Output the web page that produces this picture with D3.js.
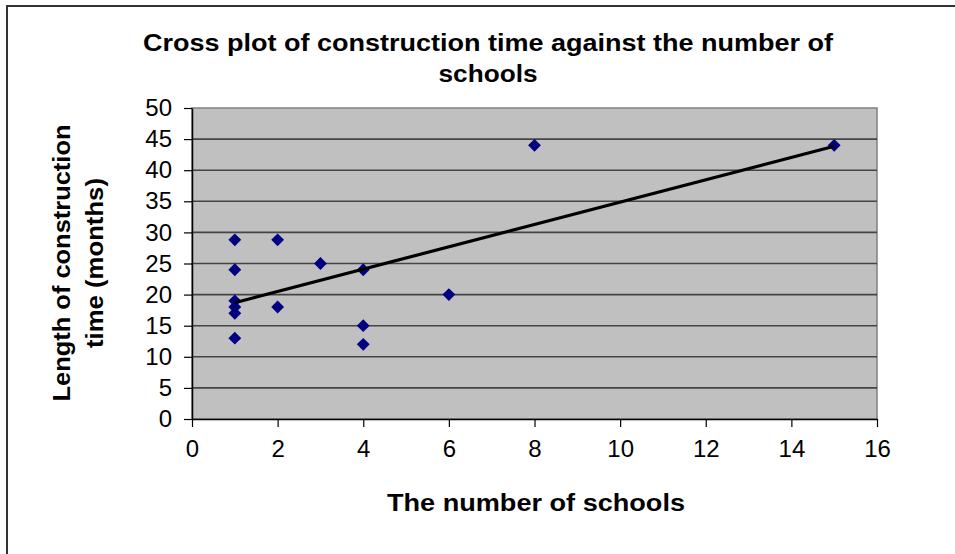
<!DOCTYPE html>
<html>
<head>
<meta charset="utf-8">
<script src="https://cdn.jsdelivr.net/npm/d3@7/dist/d3.min.js"></script>
<style>
  html, body { margin: 0; padding: 0; background: #fff; }
  svg { display: block; }
  text { font-family: "Liberation Sans", Arial, sans-serif; fill: #000; }
</style>
</head>
<body>
<svg id="chart" width="955" height="554"></svg>
<script>
// Number of schools per project and the months it took to build
const schools = [1, 1, 1, 1, 1, 1, 2, 2, 3, 4, 4, 4, 6, 8, 15];
const months  = [28.8, 24, 19, 18, 17, 13, 28.8, 18, 25, 24, 15, 12, 20, 44, 44];

const xTicks = [0, 2, 4, 6, 8, 10, 12, 14, 16];
const yTicks = [0, 5, 10, 15, 20, 25, 30, 35, 40, 45, 50];

const titleLines = ["Cross plot of construction time against the number of", "schools"];
const xTitle = "The number of schools";
const yTitleLines = ["Length of construction", "time (months)"];

const svg = d3.select("#chart");
const plot = { left: 192, right: 877, top: 108, bottom: 419 };

const x = d3.scaleLinear().domain([0, 16]).range([plot.left, plot.right]);
const y = d3.scaleLinear().domain([0, 50]).range([plot.bottom, plot.top]);

// outer chart frame (runs off the right and bottom edges)
svg.append("rect")
  .attr("x", 7).attr("y", 6)
  .attr("width", 980).attr("height", 600)
  .attr("fill", "#fff").attr("stroke", "#333").attr("stroke-width", 2);

// plot area
svg.append("rect")
  .attr("x", plot.left).attr("y", plot.top)
  .attr("width", plot.right - plot.left).attr("height", plot.bottom - plot.top)
  .attr("fill", "#c0c0c0").attr("stroke", "#808080").attr("stroke-width", 1.5);

// horizontal gridlines
svg.append("g").selectAll("line")
  .data(yTicks.filter(d => d > 0 && d < 50))
  .join("line")
  .attr("x1", plot.left).attr("x2", plot.right)
  .attr("y1", d => y(d)).attr("y2", d => y(d))
  .attr("stroke", "#444").attr("stroke-width", 1.6);

const tickFont = sel => sel
  .style("font-family", "'Liberation Sans', Arial, sans-serif")
  .style("font-size", "24px").attr("fill", "#000");

// y axis
const yAxis = svg.append("g")
  .attr("transform", `translate(${plot.left},0)`)
  .call(d3.axisLeft(y).tickValues(yTicks).tickSize(8).tickPadding(12).tickSizeOuter(0));
yAxis.select(".domain").attr("stroke", "#000").attr("stroke-width", 1.5);
yAxis.selectAll(".tick line").attr("stroke", "#000").attr("stroke-width", 1.2);
yAxis.selectAll(".tick text").call(tickFont);

// x axis
const xAxis = svg.append("g")
  .attr("transform", `translate(0,${plot.bottom})`)
  .call(d3.axisBottom(x).tickValues(xTicks).tickSize(8).tickPadding(13).tickSizeOuter(0));
xAxis.select(".domain").attr("stroke", "#000").attr("stroke-width", 1.5);
xAxis.selectAll(".tick line").attr("stroke", "#000").attr("stroke-width", 1.2);
xAxis.selectAll(".tick text").call(tickFont);

// least-squares trend line over the observed range
const n = schools.length;
const mx = d3.mean(schools), my = d3.mean(months);
let sxy = 0, sxx = 0;
for (let i = 0; i < n; i++) {
  sxy += (schools[i] - mx) * (months[i] - my);
  sxx += (schools[i] - mx) ** 2;
}
const slope = sxy / sxx, intercept = my - slope * mx;
const xExt = d3.extent(schools);

// diamond markers
const diamond = d3.symbol().type(d3.symbolDiamond2).size(105);
svg.append("g").selectAll("path")
  .data(schools.map((s, i) => [s, months[i]]))
  .join("path")
  .attr("transform", d => `translate(${x(d[0])},${y(d[1])})`)
  .attr("d", diamond)
  .attr("fill", "#000080");

svg.append("line")
  .attr("x1", x(xExt[0])).attr("y1", y(intercept + slope * xExt[0]))
  .attr("x2", x(xExt[1])).attr("y2", y(intercept + slope * xExt[1]))
  .attr("stroke", "#000").attr("stroke-width", 3.2);

// titles
const titleWidths = [690, 99];
svg.append("g").selectAll("text")
  .data(titleLines)
  .join("text")
  .attr("x", 488).attr("y", (d, i) => 51 + i * 31)
  .attr("text-anchor", "middle")
  .attr("textLength", (d, i) => titleWidths[i])
  .attr("lengthAdjust", "spacingAndGlyphs")
  .style("font-size", "23px").style("font-weight", "bold")
  .text(d => d);

svg.append("text")
  .attr("x", 536).attr("y", 511)
  .attr("text-anchor", "middle")
  .attr("textLength", 298)
  .attr("lengthAdjust", "spacingAndGlyphs")
  .style("font-size", "23px").style("font-weight", "bold")
  .text(xTitle);

const yTitleWidths = [277, 170];
svg.append("g")
  .attr("transform", "translate(0,263) rotate(-90)")
  .selectAll("text")
  .data(yTitleLines)
  .join("text")
  .attr("x", 0).attr("y", (d, i) => 70 + i * 33)
  .attr("text-anchor", "middle")
  .attr("textLength", (d, i) => yTitleWidths[i])
  .attr("lengthAdjust", "spacingAndGlyphs")
  .style("font-size", "23px").style("font-weight", "bold")
  .text(d => d);
</script>
</body>
</html>
